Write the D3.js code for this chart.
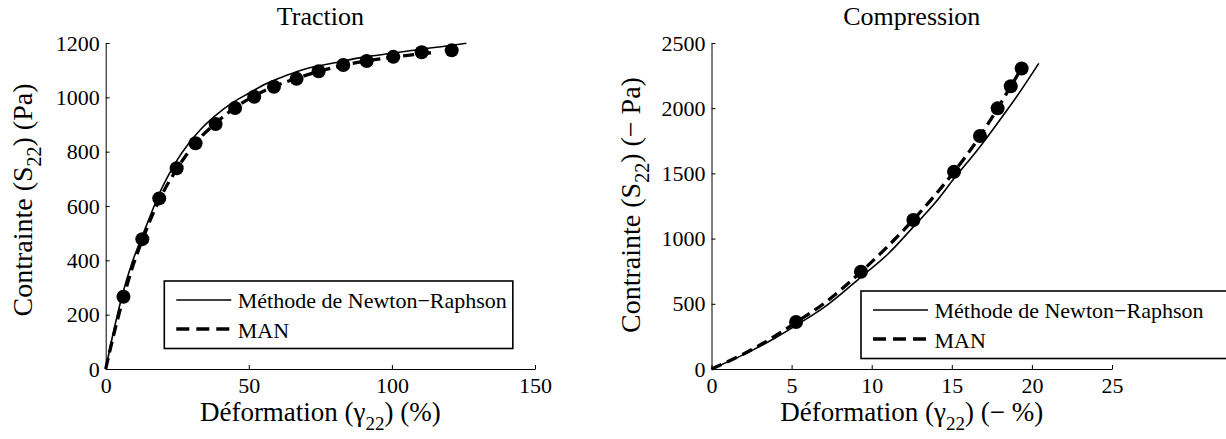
<!DOCTYPE html>
<html><head><meta charset="utf-8">
<script src="https://cdn.jsdelivr.net/npm/d3@7"></script>
<style>
body{margin:0;background:#fff}
svg text{font-family:"Liberation Serif","Times New Roman",serif;fill:#000}
</style>
</head><body>
<svg id="c" width="1226" height="439"></svg>
<script>
// ---- Traction data ----
const tractionMarkerX = [6.2, 12.8, 18.7, 24.8, 31.4, 38.4, 45.2, 51.9, 58.8, 66.7, 74.4, 83.0, 91.2, 100.5, 110.4, 120.9];
const tractionMarkerY = [266, 478, 628, 739, 831, 902, 961, 1002, 1039, 1068, 1096, 1119, 1134, 1149, 1166, 1173];
const tractionNRX = [0, 3, 6, 9, 12.8, 16, 18.7, 22, 25, 29, 33, 38, 45, 50, 56, 63, 70, 80, 90, 100, 110, 120, 126];
const tractionNRY = [0, 150, 280, 385, 490, 575, 645, 715, 770, 830, 880, 930, 985, 1015, 1050, 1080, 1105, 1127, 1148, 1162, 1177, 1190, 1199];
const tractionMANX = [0, 3, 6.2, 9.5, 12.8, 18.7, 24.8, 31.4, 38.4, 45.2, 51.9, 58.8, 66.7, 74.4, 83, 91.2, 100.5, 110, 114.5];
const tractionMANY = [0, 135, 262, 380, 475, 622, 735, 832, 905, 962, 1005, 1040, 1070, 1095, 1118, 1134, 1148, 1160, 1165];
const tractionXTicks = [0, 50, 100, 150];
const tractionYTicks = [0, 200, 400, 600, 800, 1000, 1200];

// ---- Compression data ----
const compMarkerX = [5.28, 9.33, 12.6, 15.14, 16.76, 17.86, 18.68, 19.36];
const compMarkerY = [360, 746, 1143, 1513, 1787, 1999, 2168, 2304];
const compNRX = [0, 2, 4, 5.28, 7, 9.33, 11, 12.6, 14, 15.14, 16.76, 18, 19, 20.43];
const compNRY = [0, 110, 240, 335, 470, 705, 880, 1090, 1280, 1460, 1705, 1910, 2080, 2344];
const compMANX = [0, 2, 4, 5.28, 7, 9.33, 11, 12.6, 14, 15.14, 16.76, 17.86, 18.68, 19.36];
const compMANY = [0, 115, 255, 358, 500, 745, 940, 1145, 1340, 1512, 1785, 1998, 2168, 2306];
const compXTicks = [0, 5, 10, 15, 20, 25];
const compYTicks = [0, 500, 1000, 1500, 2000, 2500];

const legendLabels = ["Méthode de Newton\u2212Raphson", "MAN"];

const svg = d3.select("#c");

function zip(xs, ys){ return xs.map((x,i)=>[x, ys[i]]); }

function panel(o){
  const g = svg.append("g");
  const x = d3.scaleLinear().domain(o.xDomain).range([o.left, o.right]);
  const y = d3.scaleLinear().domain(o.yDomain).range([o.bottom, o.top]);

  const ax = g.append("g").attr("transform", `translate(0,${o.bottom})`)
    .call(d3.axisBottom(x).tickValues(o.xTicks).tickFormat(d3.format("d"))
      .tickSizeInner(-4).tickSizeOuter(0).tickPadding(8.5));
  const ay = g.append("g").attr("transform", `translate(${o.left},0)`)
    .call(d3.axisLeft(y).tickValues(o.yTicks).tickFormat(d3.format("d"))
      .tickSizeInner(-4).tickSizeOuter(0).tickPadding(6));
  [ax, ay].forEach(a => {
    a.attr("font-family", null).attr("font-size", null);
    a.selectAll("text").attr("font-size", 22);
    a.select(".domain").attr("stroke", "#000").attr("stroke-width", 1);
    a.selectAll(".tick line").attr("stroke", "#000");
  });

  const line = d3.line().x(d=>x(d[0])).y(d=>y(d[1])).curve(d3.curveMonotoneX);

  g.append("path").attr("d", line(zip(o.nrX, o.nrY)))
    .attr("fill","none").attr("stroke","#000").attr("stroke-width",1.6);
  g.append("path").attr("d", line(zip(o.manX, o.manY)))
    .attr("fill","none").attr("stroke","#000").attr("stroke-width",3.3)
    .attr("stroke-dasharray","11,6");
  g.selectAll("circle.m").data(zip(o.mX, o.mY)).join("circle")
    .attr("cx", d=>x(d[0])).attr("cy", d=>y(d[1])).attr("r", 7).attr("fill","#000");

  g.append("text").attr("x", (o.left+o.right)/2).attr("y", 25)
    .attr("text-anchor","middle").attr("font-size", 26).text(o.title);

  const xl = g.append("text").attr("x", (o.left+o.right)/2).attr("y", 421)
    .attr("text-anchor","middle").attr("font-size", 27);
  xl.append("tspan").text("Déformation (\u03b3");
  xl.append("tspan").attr("font-size", 19).attr("dy", 9).text("22");
  xl.append("tspan").attr("dy", -9).text(o.xUnit);

  const yl = g.append("text")
    .attr("transform", `translate(${o.yLabelX},${o.yLabelY}) rotate(-90)`)
    .attr("text-anchor","middle").attr("font-size", 28);
  yl.append("tspan").text("Contrainte (S");
  yl.append("tspan").attr("font-size", 20).attr("dy", 9).text("22");
  yl.append("tspan").attr("dy", -9).text(o.yUnit);

  const lg = g.append("g");
  const bx = o.legX, by = o.legY, bh = 67.5;
  const rect = lg.append("rect").attr("x", bx).attr("y", by).attr("height", bh)
    .attr("fill","#fff").attr("stroke","#000").attr("stroke-width",1.6);
  lg.append("line").attr("x1", bx+12).attr("x2", bx+67).attr("y1", by+19).attr("y2", by+19)
    .attr("stroke","#000").attr("stroke-width",1.6);
  lg.append("line").attr("x1", bx+12).attr("x2", bx+68).attr("y1", by+48).attr("y2", by+48)
    .attr("stroke","#000").attr("stroke-width",3.3).attr("stroke-dasharray","13,7");
  const t1 = lg.append("text").attr("x", bx+73.5).attr("y", by+27).attr("font-size", 22).text(legendLabels[0]);
  lg.append("text").attr("x", bx+73.5).attr("y", by+57).attr("font-size", 22).text(legendLabels[1]);
  const tw = t1.node().getComputedTextLength();
  rect.attr("width", o.legW != null ? o.legW : 73.5 + tw + 6);
}

panel({
  left:105.7, right:535, top:43, bottom:369,
  xDomain:[0,150], yDomain:[0,1200], xTicks:tractionXTicks, yTicks:tractionYTicks,
  nrX:tractionNRX, nrY:tractionNRY, manX:tractionMANX, manY:tractionMANY,
  mX:tractionMarkerX, mY:tractionMarkerY,
  title:"Traction", xUnit:") (%)", yUnit:") (Pa)", yLabelX:32, yLabelY:200,
  legX:164.3, legY:281, legW:null
});
panel({
  left:711.5, right:1112, top:43, bottom:369,
  xDomain:[0,25], yDomain:[0,2500], xTicks:compXTicks, yTicks:compYTicks,
  nrX:compNRX, nrY:compNRY, manX:compMANX, manY:compMANY,
  mX:compMarkerX, mY:compMarkerY,
  title:"Compression", xUnit:") (\u2212 %)", yUnit:") (\u2212 Pa)", yLabelX:640, yLabelY:205,
  legX:861, legY:291, legW:380
});
</script>
</body></html>
